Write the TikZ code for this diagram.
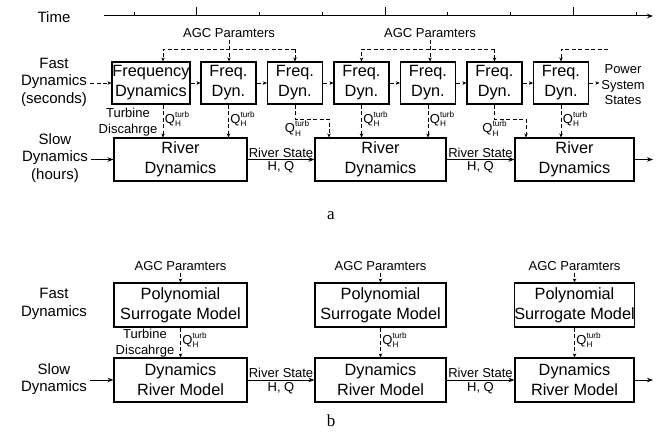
\documentclass[tikz,border=0pt]{standalone}
\usepackage{fontspec}
\setmainfont{Liberation Sans}
\newfontfamily\capfont{Liberation Serif}
\usetikzlibrary{arrows.meta,positioning,calc}

% Q_H^turb with stacked indices
\newcommand{\qturb}{Q\rlap{\raisebox{5.6pt}{\fontsize{8.2}{9}\selectfont turb}}\raisebox{-3.6pt}{\fontsize{8.2}{9}\selectfont H}}

\begin{document}
\begin{tikzpicture}[
    x=1pt, y=-1pt,
    >={Stealth[length=6pt,width=4.5pt]},
    line width=0.9pt,
    blk/.style={draw, line width=1.1pt, inner sep=0pt, align=center, minimum height=42pt, font=\fontsize{16.3}{20}\selectfont},
    side/.style={align=center, inner sep=3pt, font=\fontsize{15}{17.5}\selectfont},
    small/.style={align=center, inner sep=1.5pt, font=\fontsize{13}{15.5}\selectfont},
    qlbl/.style={inner sep=1.5pt, font=\fontsize{13}{15.5}\selectfont},
    dsh/.style={dash pattern=on 4pt off 2.5pt},
    dar/.style={dsh, -{Stealth[length=4pt,width=3.5pt]}},
    caplbl/.style={font=\capfont\fontsize{17}{20}\selectfont},
]
\useasboundingbox (0,0) rectangle (658,441);

% === (a) coupled fast / slow dynamics ===

% Time axis
\node[side] (time) at (54,17) {Time};
\coordinate (tA) at (104,16);
\coordinate (tB) at (653,16);
\draw[->, line width=1pt] (tA) -- (tB);
\foreach \tx in {134,259,322,447,510,636} \draw (\tx,16) -- (\tx,12.5);
\foreach \tx in {196,385,573} \draw (\tx,16) -- (\tx,7);

% Side labels
\node[side] (fastA) at (54,82) {Fast\\Dynamics\\(seconds)};
\node[side] (slowA) at (55,158) {Slow\\Dynamics\\(hours)};
\node[small] (pss) at (623,85) {Power\\System\\States};

% Fast boxes
\node[blk, minimum width=78pt] (f1) at (151,83) {Frequency\\Dynamics};
\foreach \n/\x in {2/228.5, 3/295, 4/361.5, 5/428, 6/494.5, 7/561}
    \node[blk, minimum width=55pt] (f\n) at (\x,83) {Freq.\\Dyn.};

% River boxes
\node[blk, minimum width=133pt, minimum height=43pt] (r1) at (180.5,159.5) {River\\Dynamics};
\node[blk, minimum width=131pt, minimum height=43pt] (r2) at (380.5,159.5) {River\\Dynamics};
\node[blk, minimum width=119pt, minimum height=43pt] (r3) at (574.5,159.5) {River\\Dynamics};

% AGC parameters
\node[small] (agcA) at (229,33) {AGC Paramters};
\node[small] (agcB) at (430,33) {AGC Paramters};
\coordinate (busA) at (0,49);
\coordinate (busEnd) at (608,49);
\coordinate (c1) at (163,0);

\draw[dar] (agcA.south) -- (agcA.south |- f2.north);
\draw[dar] (f3.north |- busA) -| (c1 |- f1.north);
\draw[dar] (f3.north |- busA) -- (f3.north);
\draw[dar] (agcB.south) -- (agcB.south |- f5.north);
\draw[dar] (f6.north |- busA) -| (f4.north);
\draw[dar] (f6.north |- busA) -- (f6.north);
\draw[dar] (busEnd) -| (f7.north);

% Fast chain
\draw[dar] (fastA.east |- f1.west) -- (f1.west);
\foreach \a/\b in {1/2, 2/3, 3/4, 4/5, 5/6, 6/7}
    \draw[dar] (f\a.east) -- (f\b.west);
\draw[dar] (f7.east) -- (f7.east -| pss.west);

% Turbine discharge
\node[small] (turbA) at (128,122) {Turbine\\Discahrge};
\coordinate (bendA) at (0,119);
\coordinate (c3) at (329,0);
\coordinate (c6) at (526,0);
\draw[dar] (c1 |- f1.south) -- (c1 |- r1.north) node[qlbl, pos=0.45, right] (qa1) {\qturb};
\draw[dar] (f2.south) -- (f2.south |- r1.north) node[qlbl, pos=0.45, right] (qa2) {\qturb};
\draw[dar] (f3.south) -- (f3.south |- bendA) node[qlbl, below, xshift=-2pt] (qa3) {\qturb} -| (c3 |- r2.north);
\draw[dar] (f4.south) -- (f4.south |- r2.north) node[qlbl, pos=0.45, right] (qa4) {\qturb};
\draw[dar] (f5.south) -- (f5.south |- r2.north) node[qlbl, pos=0.45, right] (qa5) {\qturb};
\draw[dar] (f6.south) -- (f6.south |- bendA) node[qlbl, below, xshift=-4pt] (qa6) {\qturb} -| (c6 |- r3.north);
\draw[dar] (f7.south) -- (f7.south |- r3.north) node[qlbl, pos=0.45, right] (qa7) {\qturb};

% Slow chain
\coordinate (outA) at (653,159.5);
\draw[->] (slowA.east |- r1.west) -- (r1.west);
\draw[->] (r1.east) -- (r2.west)
    node[small, midway, above] (rsA1) {River State}
    node[small, midway, below] (hqA1) {H, Q};
\draw[->] (r2.east) -- (r3.west)
    node[small, midway, above] (rsA2) {River State}
    node[small, midway, below] (hqA2) {H, Q};
\draw[->] (r3.east) -- (outA);

\node[caplbl] (capA) at (331,216) {a};

% === (b) surrogate model ===
\node[side] (fastB) at (54,304) {Fast\\Dynamics};
\node[side] (slowB) at (54,379) {Slow\\Dynamics};

\foreach \n/\x/\w in {1/180.5/133, 2/380.5/131, 3/574.5/119} {
    \node[small] (agcb\n) at (\x,266) {AGC Paramters};
    \node[blk, minimum width=\w pt, minimum height=44pt] (p\n) at (\x,305) {Polynomial\\Surrogate Model};
    \node[blk, minimum width=\w pt, minimum height=44pt] (m\n) at (\x,380) {Dynamics\\River Model};
    \draw[dar] (agcb\n.south) -- (p\n.north);
    \draw[dar] (p\n.south) -- (m\n.north) node[qlbl, pos=0.42, right] (qb\n) {\qturb};
}

\node[small] (turbB) at (145,343) {Turbine\\Discahrge};

\coordinate (outB) at (653,380);
\draw[->] (slowB.east |- m1.west) -- (m1.west);
\draw[->] (m1.east) -- (m2.west)
    node[small, midway, above] (rsB1) {River State}
    node[small, midway, below] (hqB1) {H, Q};
\draw[->] (m2.east) -- (m3.west)
    node[small, midway, above] (rsB2) {River State}
    node[small, midway, below] (hqB2) {H, Q};
\draw[->] (m3.east) -- (outB);

\node[caplbl] (capB) at (331,421) {b};

\end{tikzpicture}
\end{document}
